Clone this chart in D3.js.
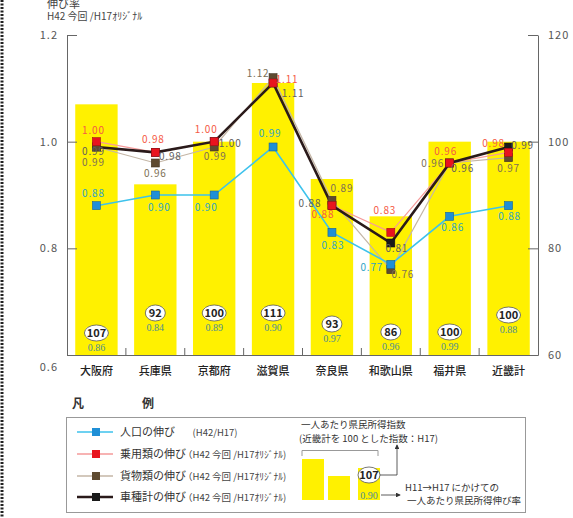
<!DOCTYPE html>
<html>
<head>
<meta charset="utf-8">
<script src="https://cdn.jsdelivr.net/npm/d3@7"></script>
<style>
  body { margin: 0; background: #fff; }
  svg { display: block; font-family: "Noto Sans CJK JP", "Noto Sans", sans-serif; }
</style>
</head>
<body>
<svg id="chart"></svg>
<script>
// ---- data ----
const categories = ['大阪府', '兵庫県', '京都府', '滋賀県', '奈良県', '和歌山県', '福井県', '近畿計'];
const incomeIndex = [107, 92, 100, 111, 93, 86, 100, 100];       // bars, right axis
const incomeGrowth = [0.86, 0.84, 0.89, 0.90, 0.97, 0.96, 0.99, 0.88];
const popGrowth = [0.88, 0.90, 0.90, 0.99, 0.83, 0.77, 0.86, 0.88];
const passengerGrowth = [1.00, 0.98, 1.00, 1.11, 0.88, 0.83, 0.96, 0.98];
const cargoGrowth = [0.99, 0.96, 0.99, 1.12, 0.89, 0.76, 0.96, 0.97];
const totalGrowth = [0.99, 0.98, 1.00, 1.11, 0.88, 0.81, 0.96, 0.99];
const leftTicks = [0.6, 0.8, 1.0, 1.2];
const rightTicks = [60, 80, 100, 120];

// ---- layout only (label nudges, placed like in the original) ----
const popOff = [[-3, -13], [4, 12], [-8, 12], [-3, -14], [1, 13], [-19, 3], [3, 11], [1, 10]];
const pasOff = [[-3, -12], [-2, -13], [-8, -13], [14, -4], [-9, 8], [-6, -22], [-4, -12], [-15, -9]];
const carOff = [[-3, 15], [0, 10], [1, 9], [-15, -5], [10, -12], [12, 4], [-17, 0], [0, 10]];
const totOff = [[-3, 4], [15, 4], [16, 1], [20, 10], [-22, -3], [6, 5], [13, 5], [14, -2]];
const ovalY = [333, 313, 313, 313, 324, 332, 332, 315];

const W = 573, H = 518;
const m = { left: 67, right: 538, top: 35, bottom: 355 };

const svg = d3.select('#chart').attr('width', W).attr('height', H);

// dotted page edge on the left
svg.append('line')
  .attr('x1', 2).attr('x2', 2).attr('y1', 0).attr('y2', H)
  .attr('stroke', '#222').attr('stroke-width', 3)
  .attr('stroke-dasharray', '2,1.5');

const x = d3.scaleBand().domain(categories)
  .range([m.left, m.right]).paddingInner(0.28).paddingOuter(0.14);
const yL = d3.scaleLinear().domain([0.6, 1.2]).range([m.bottom, m.top]);
const yR = d3.scaleLinear().domain([60, 120]).range([m.bottom, m.top]);
const cx = c => x(c) + x.bandwidth() / 2;

// title (top line is cut by the page edge in the original too)
svg.append('text').attr('x', 47).attr('y', 8).attr('font-size', 11).attr('fill', '#444').text('伸び率');
svg.append('text').attr('x', 47).attr('y', 20).attr('font-size', 10).attr('fill', '#444').text('H42 今回 /H17ｵﾘｼﾞﾅﾙ');

// bars
svg.append('g').selectAll('rect').data(categories).join('rect')
  .attr('x', d => x(d))
  .attr('y', (d, i) => yR(incomeIndex[i]))
  .attr('width', x.bandwidth())
  .attr('height', (d, i) => m.bottom - yR(incomeIndex[i]))
  .attr('fill', '#fff100');

// bar labels: index in an oval, growth rate below
const bl = svg.append('g').selectAll('g').data(categories).join('g')
  .attr('transform', (d, i) => `translate(${cx(d)},${ovalY[i]})`);
bl.append('ellipse')
  .attr('rx', (d, i) => String(incomeIndex[i]).length > 2 ? 12 : 10).attr('ry', 8)
  .attr('fill', '#fff').attr('stroke', '#555').attr('stroke-width', 0.8);
bl.append('text').attr('text-anchor', 'middle').attr('dy', 4)
  .attr('font-size', 11).attr('font-weight', 'bold').attr('fill', '#222')
  .text((d, i) => incomeIndex[i]);
bl.append('text').attr('text-anchor', 'middle').attr('dy', 18)
  .attr('font-family', 'Liberation Serif, serif').attr('font-size', 10).attr('fill', '#4f8d94')
  .text((d, i) => incomeGrowth[i].toFixed(2));

// axes
const axisColor = '#666';
const gl = svg.append('g').attr('transform', `translate(${m.left},0)`)
  .call(d3.axisLeft(yL).tickValues(leftTicks).tickSize(-10).tickSizeOuter(0).tickPadding(9)
    .tickFormat(d3.format('.1f')));
const gr = svg.append('g').attr('transform', `translate(${m.right},0)`)
  .call(d3.axisRight(yR).tickValues(rightTicks).tickSize(-10).tickSizeOuter(0).tickPadding(10));
[gl, gr].forEach(g => {
  g.selectAll('path,line').attr('stroke', axisColor);
  g.selectAll('text').attr('fill', '#555').attr('font-size', 11)
    .attr('font-family', 'Noto Sans CJK JP, sans-serif').attr('letter-spacing', 1);
});
gl.selectAll('.tick text').filter(d => d === 0.6).attr('dy', '1.4em');

const gb = svg.append('g').attr('transform', `translate(0,${m.bottom})`)
  .call(d3.axisBottom(x).tickSize(0).tickPadding(12));
gb.select('.domain').attr('stroke', axisColor);
gb.selectAll('text').attr('font-size', 11).attr('fill', '#222')
  .attr('font-family', 'Noto Sans CJK JP, sans-serif').attr('font-weight', 500);
// separator ticks between categories
svg.append('g').selectAll('line').data(d3.range(1, categories.length)).join('line')
  .attr('x1', k => m.left + x.step() * k).attr('x2', k => m.left + x.step() * k)
  .attr('y1', m.bottom).attr('y2', m.bottom - 7)
  .attr('stroke', axisColor);

// line series
const series = [
  { name: '貨物類の伸び', sub: '（H42 今回 /H17ｵﾘｼﾞﾅﾙ)', values: cargoGrowth, off: carOff,
    line: '#c4b6a6', lw: 1.2, mark: '#5e4a30', text: '#7d6f55' },
  { name: '人口の伸び', sub: '　(H42/H17)', values: popGrowth, off: popOff,
    line: '#3dc2ec', lw: 1.6, mark: '#1f8fd6', text: '#2fa4c4' },
  { name: '乗用類の伸び', sub: '（H42 今回 /H17ｵﾘｼﾞﾅﾙ)', values: passengerGrowth, off: pasOff,
    line: '#f59a9a', lw: 1.2, mark: '#e8141e', text: '#f55a45' },
  { name: '車種計の伸び', sub: '（H42 今回 /H17ｵﾘｼﾞﾅﾙ)', values: totalGrowth, off: totOff,
    line: '#2a1a1a', lw: 2.6, mark: '#1a1a1a', text: '#5f5f5f' }
];
const lineGen = d3.line().x((d, i) => cx(categories[i])).y(d => yL(d));

svg.append('g').selectAll('path').data(series).join('path')
  .attr('d', s => lineGen(s.values))
  .attr('fill', 'none').attr('stroke', s => s.line).attr('stroke-width', s => s.lw);

// markers: total first so the coloured ones sit on top
const markOrder = [series[3], series[0], series[1], series[2]];
markOrder.forEach(s => {
  svg.append('g').selectAll('rect').data(s.values).join('rect')
    .attr('x', (d, i) => cx(categories[i]) - 4).attr('y', d => yL(d) - 4)
    .attr('width', 8).attr('height', 8)
    .attr('fill', s.mark).attr('stroke', d3.color(s.mark).darker(1)).attr('stroke-width', 0.6);
});

series.forEach(s => {
  svg.append('g').selectAll('text').data(s.values).join('text')
    .attr('x', (d, i) => cx(categories[i]) + s.off[i][0])
    .attr('y', (d, i) => yL(d) + s.off[i][1] + 4)
    .attr('text-anchor', 'middle').attr('font-size', 10).attr('letter-spacing', 0.8)
    .attr('fill', s.text)
    .text(d => d.toFixed(2));
});

// ---- legend ----
const lg = svg.append('g');
lg.append('text').attr('x', 72).attr('y', 408).attr('font-size', 12).attr('font-weight', 'bold').attr('fill', '#333').text('凡');
lg.append('text').attr('x', 142).attr('y', 408).attr('font-size', 12).attr('font-weight', 'bold').attr('fill', '#333').text('例');
lg.append('rect').attr('x', 66.5).attr('y', 417.5).attr('width', 459).attr('height', 95)
  .attr('fill', 'none').attr('stroke', '#999');

const legendOrder = [series[1], series[2], series[0], series[3]];
const rowY = [432, 454, 476, 497];
legendOrder.forEach((s, i) => {
  const y = rowY[i];
  lg.append('line').attr('x1', 77).attr('x2', 113).attr('y1', y).attr('y2', y)
    .attr('stroke', s.line).attr('stroke-width', Math.max(s.lw, 1.5));
  lg.append('rect').attr('x', 92).attr('y', y - 4).attr('width', 8).attr('height', 8).attr('fill', s.mark);
  lg.append('text').attr('x', 120).attr('y', y + 4).attr('font-size', 11).attr('fill', '#333').text(s.name);
  lg.append('text').attr('x', 183).attr('y', y + 4).attr('font-size', 9.5).attr('fill', '#444').text(s.sub);
});

// income legend on the right
lg.append('text').attr('x', 301).attr('y', 428).attr('font-size', 9.5).attr('fill', '#333').text('一人あたり県民所得指数');
lg.append('text').attr('x', 299).attr('y', 442).attr('font-size', 9.5).attr('fill', '#333').text('(近畿計を 100 とした指数：H17)');
lg.append('path').attr('d', 'M302,456 V450.5 H378 V456').attr('fill', 'none').attr('stroke', '#999');
[[302, 459], [328, 476], [358, 468]].forEach(([bx, by]) => {
  lg.append('rect').attr('x', bx).attr('y', by).attr('width', 22).attr('height', 500 - by).attr('fill', '#fff100');
});
lg.append('ellipse').attr('cx', 369).attr('cy', 475).attr('rx', 11).attr('ry', 8)
  .attr('fill', '#fff').attr('stroke', '#555').attr('stroke-width', 0.8);
lg.append('text').attr('x', 369).attr('y', 479).attr('text-anchor', 'middle').attr('font-size', 11)
  .attr('font-weight', 'bold').attr('fill', '#222').text('107');
lg.append('text').attr('x', 369).attr('y', 499).attr('text-anchor', 'middle').attr('font-size', 10)
  .attr('font-family', 'Liberation Serif, serif').attr('fill', '#4f8d94').text('0.90');

svg.append('defs').append('marker').attr('id', 'arr')
  .attr('viewBox', '0 0 6 6').attr('refX', 5).attr('refY', 3)
  .attr('markerWidth', 6).attr('markerHeight', 6).attr('orient', 'auto')
  .append('path').attr('d', 'M0,0 L6,3 L0,6 Z').attr('fill', '#333');
lg.append('path').attr('d', 'M380,475 H397 V445').attr('fill', 'none').attr('stroke', '#333')
  .attr('stroke-width', 0.8).attr('marker-end', 'url(#arr)');
lg.append('path').attr('d', 'M381,495 H400').attr('fill', 'none').attr('stroke', '#333')
  .attr('stroke-width', 0.8).attr('marker-end', 'url(#arr)');
lg.append('text').attr('x', 405).attr('y', 491).attr('font-size', 9.5).attr('fill', '#333').text('H11→H17 にかけての');
lg.append('text').attr('x', 407).attr('y', 504).attr('font-size', 9.5).attr('fill', '#333').text('一人あたり県民所得伸び率');
</script>
</body>
</html>
